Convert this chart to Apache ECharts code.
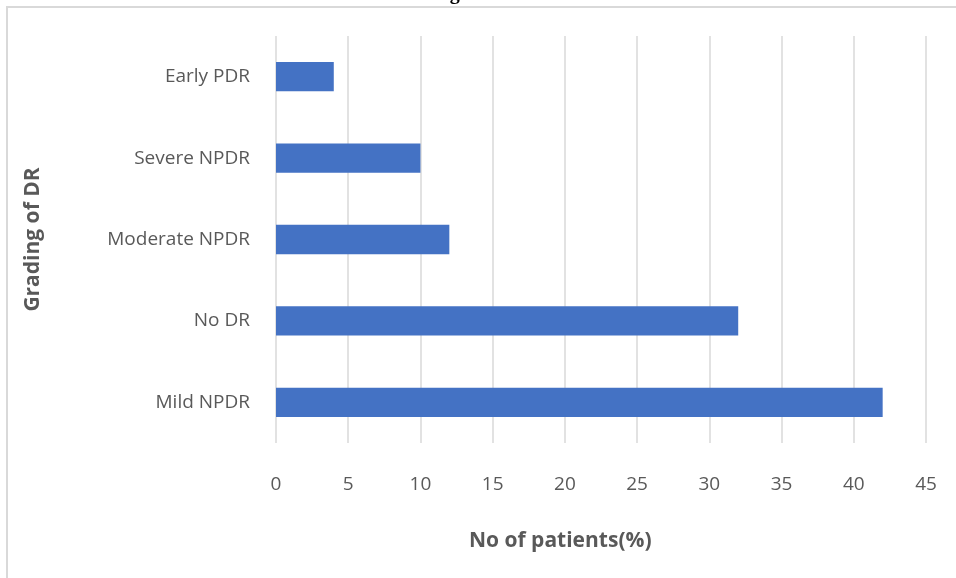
<!DOCTYPE html>
<html>
<head>
    <meta charset="utf-8">
    <title>Grading of DR</title>
    <script src="https://cdn.jsdelivr.net/npm/echarts@6/dist/echarts.min.js"></script>
    <style>
        body { margin: 0; background: #fff; }
    </style>
</head>
<body>
    <div id="main" style="width: 956px;height:578px;"></div>
    <script type="text/javascript">
    // grading categories, bottom to top
    var grades = ['Mild NPDR', 'No DR', 'Moderate NPDR', 'Severe NPDR', 'Early PDR'];
    var patients = [42, 32, 12, 10, 4];
    var xTicks = [0, 45, 5];   // min, max, step

    var myChart = echarts.init(document.getElementById('main'));
    var font = 'Open Sans';

    var option = {
        animation: false,
        grid: { left: 276, right: 30, top: 36, bottom: 135 },
        graphic: [
            {
                type: 'rect',
                shape: { x: 7, y: 7, width: 1200, height: 1200 },
                style: { fill: 'none', stroke: '#d9d9d9', lineWidth: 2 }
            },
            {
                type: 'text',
                left: 432, top: -16,
                style: { text: 'Figure 3 :', font: 'bold 20px "Liberation Serif"', fill: '#000' }
            },
            {
                type: 'text',
                left: 469, top: 531,
                style: { text: 'No of patients(%)', font: 'bold 21px "' + font + '"', fill: '#595959' }
            }
        ],
        xAxis: {
            type: 'value',
            min: xTicks[0], max: xTicks[1], interval: xTicks[2],
            axisLine: { show: false },
            axisTick: { show: false },
            axisLabel: { color: '#595959', fontSize: 19, fontFamily: font, margin: 32 },
            splitLine: { lineStyle: { color: '#d9d9d9', width: 1.5 } }
        },
        yAxis: {
            type: 'category',
            data: grades,
            name: 'Grading of DR',
            nameLocation: 'middle',
            nameGap: 232,
            nameTextStyle: { color: '#595959', fontSize: 21, fontWeight: 'bold', fontFamily: font },
            axisLine: { show: false },
            axisTick: { show: false },
            axisLabel: { color: '#595959', fontSize: 19, fontFamily: font, margin: 26 }
        },
        series: [{
            type: 'bar',
            data: patients,
            barCategoryGap: '64%',
            itemStyle: { color: '#4472C4' }
        }]
    };

    myChart.setOption(option);
    </script>
</body>
</html>
